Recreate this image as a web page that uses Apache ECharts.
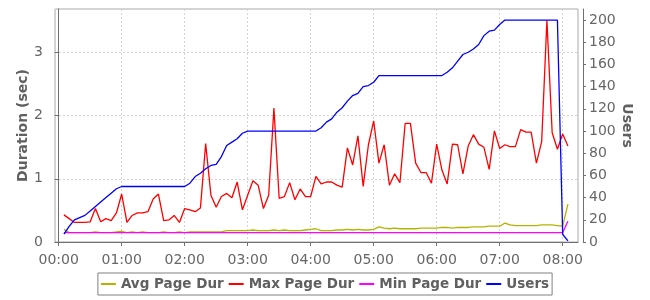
<!DOCTYPE html>
<html><head><meta charset="utf-8">
<script src="https://cdn.jsdelivr.net/npm/echarts@6/dist/echarts.min.js"></script>
<style>html,body{margin:0;padding:0;background:#fff}#c{width:650px;height:300px}</style>
</head><body><div id="c"></div>
<script>
// time of each sample, minutes since 00:00
const minutes = [5,10,15,20,25,30,35,40,45,50,55,60,65,70,75,80,85,90,95,100,105,110,115,120,
125,130,135,140,145,150,155,160,165,170,175,180,185,190,195,200,205,210,215,220,225,230,235,240,245,
250,255,260,265,270,275,280,285,290,295,300,305,310,315,320,325,330,335,340,345,350,355,360,365,370,
375,380,385,390,395,400,405,410,415,420,425,430,435,440,445,450,455,460,465,470,475,480,485];
const avgDur = [0.20,0.15,0.15,0.15,0.15,0.15,0.16,0.15,0.15,0.15,0.16,0.17,0.15,0.16,0.15,0.16,0.15,0.15,0.15,0.16,0.15,0.15,0.16,0.15,
0.16,0.16,0.16,0.16,0.16,0.16,0.16,0.18,0.18,0.18,0.18,0.18,0.19,0.18,0.18,0.18,0.19,0.18,0.19,0.18,0.18,0.18,0.19,0.20,0.21,
0.18,0.18,0.18,0.19,0.19,0.20,0.19,0.20,0.19,0.19,0.20,0.24,0.22,0.21,0.22,0.21,0.21,0.21,0.21,0.22,0.22,0.22,0.22,0.23,0.23,
0.22,0.23,0.23,0.23,0.24,0.24,0.24,0.25,0.25,0.25,0.30,0.27,0.26,0.26,0.26,0.26,0.26,0.27,0.27,0.27,0.26,0.25,0.60];
const maxDur = [0.43,0.37,0.31,0.31,0.31,0.32,0.53,0.32,0.37,0.34,0.46,0.76,0.31,0.42,0.46,0.46,0.48,0.68,0.76,0.34,0.35,0.42,0.31,0.53,
0.51,0.48,0.54,1.56,0.74,0.55,0.72,0.77,0.70,0.95,0.51,0.74,0.97,0.90,0.53,0.74,2.12,0.69,0.72,0.94,0.67,0.84,0.72,0.72,1.04,
0.92,0.95,0.95,0.90,0.87,1.49,1.22,1.68,0.88,1.54,1.92,1.25,1.54,0.90,1.08,0.94,1.88,1.88,1.25,1.10,1.10,0.93,1.55,1.14,0.92,
1.55,1.54,1.08,1.52,1.70,1.55,1.50,1.15,1.76,1.48,1.54,1.51,1.51,1.78,1.74,1.74,1.25,1.59,3.51,1.73,1.47,1.71,1.52];
const minDur = [0.15,0.15,0.15,0.15,0.15,0.15,0.15,0.15,0.15,0.15,0.15,0.15,0.15,0.15,0.15,0.15,0.15,0.15,0.15,0.15,0.15,0.15,0.15,0.15,
0.15,0.15,0.15,0.15,0.15,0.15,0.15,0.15,0.15,0.15,0.15,0.15,0.15,0.15,0.15,0.15,0.15,0.15,0.15,0.15,0.15,0.15,0.15,0.15,0.15,
0.15,0.15,0.15,0.15,0.15,0.15,0.15,0.15,0.15,0.15,0.15,0.15,0.15,0.15,0.15,0.15,0.15,0.15,0.15,0.15,0.15,0.15,0.15,0.15,0.15,
0.15,0.15,0.15,0.15,0.15,0.15,0.15,0.15,0.15,0.15,0.15,0.15,0.15,0.15,0.15,0.15,0.15,0.15,0.15,0.15,0.15,0.15,0.33];
const users = [7,14,20,22,24,28,32,36,40,44,48,50,50,50,50,50,50,50,50,50,50,50,50,50,
53,59,62,66,69,70,77,87,90,93,98,100,100,100,100,100,100,100,100,100,100,100,100,100,100,
103,108,111,117,121,127,132,134,140,141,144,150,150,150,150,150,150,150,150,150,150,150,150,150,153,
157,163,169,171,174,178,186,190,191,196,200,200,200,200,200,200,200,200,200,200,200,7,1];
const hourTicks = [0,60,120,180,240,300,360,420,480];
const seriesNames = ['Avg Page Dur','Max Page Dur','Min Page Dur','Users'];
const seriesColors = ['#b4b400','#ff0000','#ff00ff','#0000ff'];

function fmt(v){const h=Math.floor(v/60),m=Math.round(v%60);return String(h).padStart(2,'0')+':'+String(m).padStart(2,'0');}
const pair = arr => minutes.map((m,i)=>[m,arr[i]]);
const txt = '#666';
const font = 'DejaVu Sans';
const chart = echarts.init(document.getElementById('c'), null, {renderer:'canvas'});
const valuesBySeries = [avgDur,maxDur,minDur,users];
chart.setOption({
  animation:false,
  backgroundColor:'#fff',
  grid:{left:55,right:72,top:9,bottom:58,show:true,borderColor:'#a8a8a8',borderWidth:1,backgroundColor:'#fff'},
  legend:{top:273,left:'center',icon:'rect',itemWidth:15,itemHeight:2,itemGap:5,
    borderColor:'#808080',borderWidth:1,padding:[4,3,4,3],
    data:seriesNames,
    textStyle:{fontFamily:font,fontWeight:'bold',fontSize:13.5,color:'#606060'}},
  xAxis:{type:'value',min:-3.5,max:494.6,offset:4,
    axisLine:{show:true,lineStyle:{color:'#707070'}},
    axisTick:{show:true,length:4,inside:false,customValues:hourTicks,lineStyle:{color:'#707070'}},
    axisLabel:{customValues:hourTicks,formatter:fmt,margin:7,fontFamily:font,fontSize:14,color:txt,
      alignMinLabel:'center',alignMaxLabel:'center',hideOverlap:false},
    splitLine:{show:true,lineStyle:{color:'#d4d4d4',type:[2,2]}}},
  yAxis:[
    {type:'value',min:0,max:3.69,interval:1,offset:4,position:'left',
     name:'Duration (sec)',nameLocation:'middle',nameRotate:90,nameGap:21,nameMoveOverlap:false,
     nameTextStyle:{fontFamily:font,fontWeight:'bold',fontSize:14,color:'#606060'},
     axisLine:{show:true,lineStyle:{color:'#707070'}},
     axisTick:{show:true,length:4,lineStyle:{color:'#707070'}},
     axisLabel:{margin:8,fontFamily:font,fontSize:14,color:txt,showMaxLabel:false},
     splitLine:{show:true,lineStyle:{color:'#d4d4d4',type:[2,2]}}},
    {type:'value',min:0,max:210,interval:20,offset:5,position:'right',
     name:'Users',nameLocation:'middle',nameRotate:-90,nameGap:37,nameMoveOverlap:false,
     nameTextStyle:{fontFamily:font,fontWeight:'bold',fontSize:14,color:'#606060'},
     axisLine:{show:true,lineStyle:{color:'#707070'}},
     axisTick:{show:true,length:3,lineStyle:{color:'#707070'}},
     axisLabel:{margin:6,fontFamily:font,fontSize:14,color:txt,showMaxLabel:false},
     splitLine:{show:false}}
  ],
  series: seriesNames.map((n,i)=>({
    name:n,type:'line',yAxisIndex:i===3?1:0,data:pair(valuesBySeries[i]),
    showSymbol:false,symbol:'none',color:seriesColors[i],
    lineStyle:{width:1.3,color:seriesColors[i]},itemStyle:{color:seriesColors[i]}
  }))
});
</script></body></html>
